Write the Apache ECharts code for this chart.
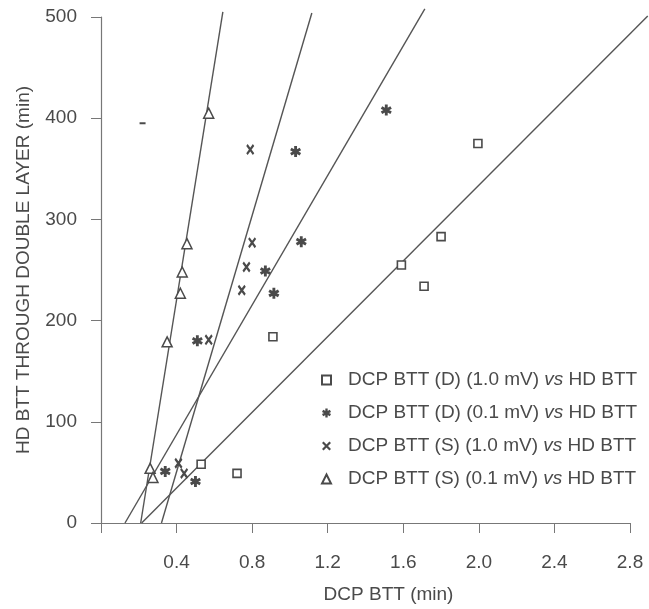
<!DOCTYPE html>
<html>
<head>
<meta charset="utf-8">
<script src="https://cdn.jsdelivr.net/npm/echarts@6/dist/echarts.min.js"></script>
<style>
  html, body { margin: 0; padding: 0; background: #fff; }
  #main { width: 649px; height: 609px; }
</style>
</head>
<body>
<div id="main"></div>
<script>
// values
var xTicks = [0.4, 0.8, 1.2, 1.6, 2.0, 2.4, 2.8];
var yTicks = [0, 100, 200, 300, 400, 500];

var names = [
  'DCP BTT (D) (1.0 mV) vs HD BTT',
  'DCP BTT (D) (0.1 mV) vs HD BTT',
  'DCP BTT (S) (1.0 mV) vs HD BTT',
  'DCP BTT (S) (0.1 mV) vs HD BTT'
];

// DCP BTT (D) 1.0 mV  - squares
var d10X = [0.53, 0.72, 0.91, 1.59, 1.71, 1.80, 1.995];
var d10Y = [58, 49, 184, 255, 234, 283, 375];
// DCP BTT (D) 0.1 mV  - asterisks
var d01X = [0.34, 0.50, 0.51, 0.87, 0.915, 1.03, 1.06, 1.51];
var d01Y = [51, 41, 180, 249, 227, 367, 278, 408];
// DCP BTT (S) 1.0 mV  - crosses
var s10X = [0.41, 0.44, 0.57, 0.745, 0.77, 0.80, 0.79];
var s10Y = [59, 49, 181, 230, 253, 277, 369];
// DCP BTT (S) 0.1 mV  - triangles
var s01X = [0.26, 0.275, 0.35, 0.42, 0.43, 0.455, 0.57];
var s01Y = [54, 45, 179, 227, 248, 276, 405];

// fitted lines, end points (x, y) - they run past the plot frame
var fitD10 = [[0.215, 0], [2.894, 501]];
var fitD01 = [[0.127, 0], [1.714, 508]];
var fitS10 = [[0.32, 0], [1.116, 504]];
var fitS01 = [[0.21, 0], [0.645, 505]];

// stray mark near 400
var strayX = [0.22];
var strayY = [395];

var ink = '#4a4a4a';
var font = 'Liberation Sans, Arial, sans-serif';

var asterisk = 'path://M-1.3 -5L1.3 -5L1.3 5L-1.3 5Z M-5 -1.2L-3.7 -3.5L5 1.2L3.7 3.5Z M3.7 -3.5L5 -1.2L-3.7 3.5L-5 1.2Z';
var cross = 'path://M-4.3 -2.8L-2.8 -4.3L4.3 2.8L2.8 4.3Z M2.8 -4.3L4.3 -2.8L-2.8 4.3L-4.3 2.8Z';

// plot frame and a wider hidden frame for the fitted lines
var W = 649, gl = 101, gr = 19, gt = 17, gb = 86;
var xMax = 2.8, yMax = 500;
var fitRight = 1;
var fitXMax = xMax * (W - fitRight - gl) / (W - gr - gl);

function pairs(xs, ys) {
  var out = [];
  for (var i = 0; i < xs.length; i++) out.push([xs[i], ys[i]]);
  return out;
}

function fitLine(pts) {
  return {
    type: 'line', data: pts, showSymbol: false, symbol: 'none', clip: false,
    xAxisIndex: 1, yAxisIndex: 1,
    silent: true, z: 1,
    lineStyle: { color: '#555', width: 1.4 }
  };
}

var myChart = echarts.init(document.getElementById('main'));

var option = {
  backgroundColor: '#fff',
  animation: false,
  textStyle: { fontFamily: font },
  grid: [
    { left: gl, right: gr, top: gt, bottom: gb },
    { left: gl, right: fitRight, top: gt, bottom: gb }
  ],
  xAxis: [{
    type: 'value', min: 0, max: xMax, interval: 0.4,
    name: 'DCP BTT (min)', nameLocation: 'middle', nameGap: 62,
    nameTextStyle: { color: ink, fontSize: 19, fontFamily: font, padding: [0, 0, 0, 46] },
    axisLine: { lineStyle: { color: '#777', width: 1.2 } },
    axisTick: { length: 10, lineStyle: { color: '#777' } },
    axisLabel: {
      margin: 30, color: ink, fontSize: 19, fontFamily: font,
      formatter: function (v) { return xTicks.indexOf(v) < 0 ? '' : v.toFixed(1); }
    },
    splitLine: { show: false }
  }, {
    type: 'value', gridIndex: 1, min: 0, max: fitXMax, show: false
  }],
  yAxis: [{
    type: 'value', min: 0, max: yMax, interval: 100,
    name: 'HD BTT THROUGH DOUBLE LAYER (min)', nameLocation: 'middle', nameGap: 68,
    nameTextStyle: { color: ink, fontSize: 19, fontFamily: font },
    axisLine: { show: true, lineStyle: { color: '#777', width: 1.2 } },
    axisTick: { show: true, length: 10, lineStyle: { color: '#777' } },
    axisLabel: {
      margin: 24, color: ink, fontSize: 19, fontFamily: font,
      formatter: function (v) { return yTicks.indexOf(v) < 0 ? '' : String(v); }
    },
    splitLine: { show: false }
  }, {
    type: 'value', gridIndex: 1, min: 0, max: yMax, show: false
  }],
  legend: {
    orient: 'vertical', left: 316, top: 365,
    itemWidth: 9, itemHeight: 9, itemGap: 13,
    data: names,
    formatter: function (n) {
      var parts = n.split(' vs ');
      return '{s| }{n|' + parts[0] + ' }{i|vs}{n| ' + parts[1] + '}';
    },
    textStyle: {
      color: ink, fontSize: 19, fontFamily: font, lineHeight: 20,
      rich: {
        s: { width: 12 },
        n: { color: ink, fontSize: 19, fontFamily: font, lineHeight: 20 },
        i: { color: ink, fontSize: 19, fontFamily: font, fontStyle: 'italic', lineHeight: 20 }
      }
    }
  },
  series: [
    fitLine(fitD10), fitLine(fitD01), fitLine(fitS10), fitLine(fitS01),
    {
      name: names[0], type: 'scatter', data: pairs(d10X, d10Y),
      symbol: 'rect', symbolSize: 8, z: 3,
      itemStyle: { color: '#fff', borderColor: ink, borderWidth: 1.6, opacity: 1 }
    },
    {
      name: names[1], type: 'scatter', data: pairs(d01X, d01Y),
      symbol: asterisk, symbolSize: 11, z: 3,
      itemStyle: { color: ink, opacity: 1 }
    },
    {
      name: names[2], type: 'scatter', data: pairs(s10X, s10Y),
      symbol: cross, symbolSize: [8, 11], z: 3,
      itemStyle: { color: ink, opacity: 1 }
    },
    {
      name: names[3], type: 'scatter', data: pairs(s01X, s01Y),
      symbol: 'triangle', symbolSize: 10, z: 3,
      itemStyle: { color: '#fff', borderColor: ink, borderWidth: 1.5, opacity: 1 }
    },
    {
      name: 'stray', type: 'scatter', data: pairs(strayX, strayY),
      symbol: 'rect', symbolSize: [6, 2], z: 3,
      itemStyle: { color: ink, opacity: 1 }
    }
  ]
};

myChart.setOption(option);
</script>
</body>
</html>
